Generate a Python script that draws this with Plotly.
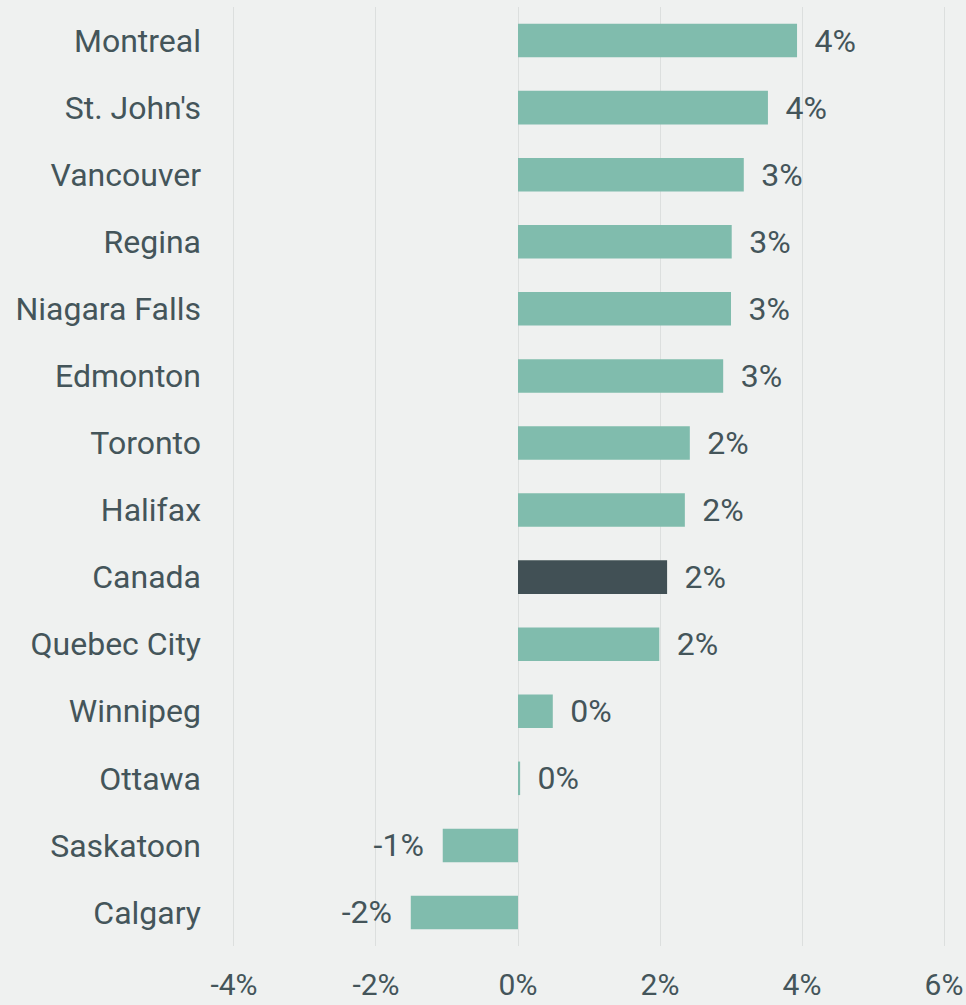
import plotly.graph_objects as go

cities = ["Montreal", "St. John's", "Vancouver", "Regina", "Niagara Falls", "Edmonton",
          "Toronto", "Halifax", "Canada", "Quebec City", "Winnipeg", "Ottawa",
          "Saskatoon", "Calgary"]
values = [3.93, 3.52, 3.18, 3.01, 3.00, 2.89, 2.42, 2.35, 2.10, 1.99, 0.49, 0.03, -1.06, -1.51]
x_ticks = [-4, -2, 0, 2, 4, 6]
x_tick_labels = ["-4%", "-2%", "0%", "2%", "4%", "6%"]

GREEN = "#80bcad"
DARK = "#415055"
TEXT = "#44555a"
BG = "#eff1f0"

colors = [DARK if c == "Canada" else GREEN for c in cities]
pad_r = "\u00a0\u2009"
pad_l = "\u00a0\u00a0"
labels = [(pad_r + f"{v:.0f}%") if v >= 0 else (f"{v:.0f}%" + pad_l) for v in values]

fig = go.Figure(go.Bar(
    x=values, y=cities, orientation="h",
    marker=dict(color=colors, line=dict(width=0)),
    width=0.5,
    text=labels, textposition="outside", constraintext="none", cliponaxis=False,
    textfont=dict(size=32, color=TEXT, family="Roboto"),
))

fig.update_layout(
    width=966, height=1005,
    paper_bgcolor=BG, plot_bgcolor=BG,
    margin=dict(l=232, r=20, t=7, b=59),
    font=dict(family="Roboto", color=TEXT, size=32),
    showlegend=False,
    xaxis=dict(range=[-4.028, 6.028], tickvals=x_ticks, ticktext=x_tick_labels,
               showgrid=True, gridcolor="#dcdfde", gridwidth=1, zeroline=False,
               showline=False, ticks="", ticklabelstandoff=18, automargin=False,
               tickfont=dict(size=30, color=TEXT)),
    yaxis=dict(autorange="reversed", showgrid=False, zeroline=False, showline=False,
               ticks="", ticklabelstandoff=30, automargin=False,
               tickfont=dict(size=32, color=TEXT)),
)

fig.write_html("out.html", config={"displayModeBar": False},
               post_script="document.body.style.margin='0';")
